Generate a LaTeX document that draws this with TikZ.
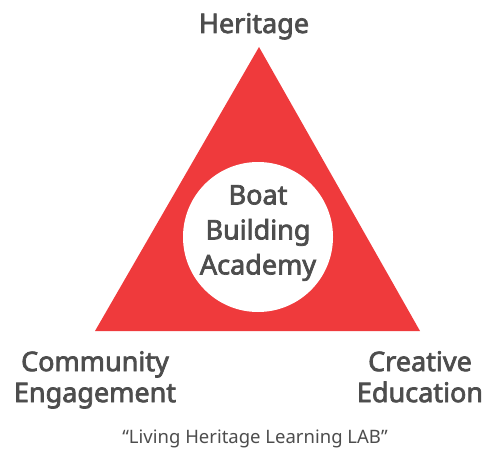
\documentclass[tikz,border=0pt]{standalone}
\usepackage{fontspec}
\setmainfont{Noto Sans}
\newfontfamily\heavyfont{Noto Sans}[FakeBold=2.6]
\definecolor{tri-red}{HTML}{EF3A3C}
\definecolor{label-grey}{HTML}{4D4D4D}
\tikzset{
  corner-label/.style={text=label-grey, font=\heavyfont\fontsize{27}{31}\selectfont, align=center, inner sep=0pt},
  hub-label/.style={text=label-grey, font=\heavyfont\fontsize{27}{35}\selectfont, align=center, inner sep=0pt},
  motto/.style={text=label-grey, font=\fontsize{18.5}{22}\selectfont, inner sep=0pt},
}
\begin{document}
\begin{tikzpicture}[x=1pt, y=-1pt]
\useasboundingbox (0,0) rectangle (489,452);
\fill[tri-red] (259,47) coordinate (apex) -- (420,331) coordinate (right) -- (95,331) coordinate (left) -- cycle;
\fill[white] (258,237) circle (75);
\node[hub-label] at (258,233) (academy) {Boat\\Building\\Academy};
\node[corner-label, anchor=base] at (254,33) (heritage) {Heritage};
\node[corner-label, anchor=north] at (95,351) (community) {Community\\Engagement};
\node[corner-label, anchor=north] at (420,351) (creative) {Creative\\Education};
\node[motto, anchor=base] at (255,443) (lab) {“Living Heritage Learning LAB”};
\end{tikzpicture}
\end{document}
